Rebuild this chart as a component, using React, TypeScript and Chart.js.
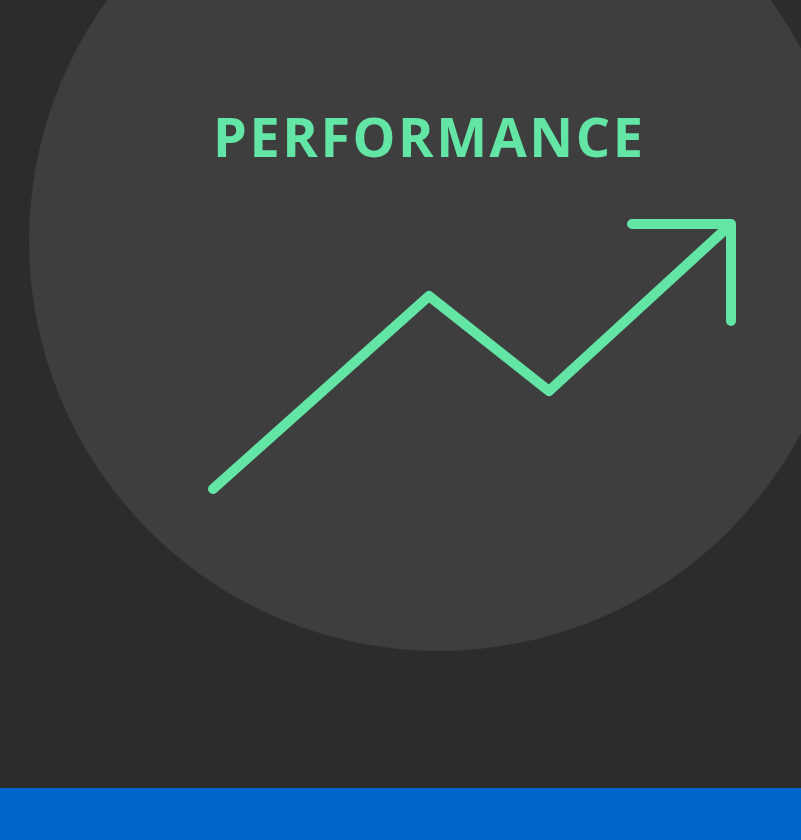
import React, { useEffect, useRef } from "react";
import { Chart, registerables } from "chart.js";

Chart.register(...registerables);

// Data (in picture units: x across, y down)
const trendX = [213, 429, 549, 729];
const trendY = [489, 296, 391, 226];
const arrowX = [632, 731, 731];
const arrowY = [224, 224, 321];
const circleCenter = { x: 439, y: 241 };
const circleRadius = 410;
const bandTop = 788;
const titleText = "PERFORMANCE";
const titlePos = { x: 428, y: 157 };

const W = 801;
const H = 840;

const decorPlugin = {
  id: "decor",
  beforeDraw(chart: any) {
    const { ctx, scales } = chart;
    const xs = scales.x;
    const ys = scales.y;
    ctx.save();
    ctx.fillStyle = "#2c2c2c";
    ctx.fillRect(0, 0, chart.width, chart.height);
    const cx = xs.getPixelForValue(circleCenter.x);
    const cy = ys.getPixelForValue(circleCenter.y);
    const r = xs.getPixelForValue(circleCenter.x + circleRadius) - cx;
    ctx.beginPath();
    ctx.arc(cx, cy, r, 0, Math.PI * 2);
    ctx.fillStyle = "#3e3e3e";
    ctx.fill();
    const by = ys.getPixelForValue(bandTop);
    ctx.fillStyle = "#0066cc";
    ctx.fillRect(0, by, chart.width, chart.height - by);
    // title
    ctx.font = "bold 54px 'Open Sans'";
    const spacing = 2.5;
    (ctx as any).letterSpacing = spacing + "px";
    ctx.fillStyle = "#63e6a5";
    ctx.textBaseline = "alphabetic";
    ctx.textAlign = "left";
    const w = ctx.measureText(titleText).width - spacing;
    ctx.fillText(titleText, xs.getPixelForValue(titlePos.x) - w / 2, ys.getPixelForValue(titlePos.y));
    ctx.restore();
  },
};

export default function App() {
  const ref = useRef<HTMLCanvasElement>(null);
  useEffect(() => {
    if (!ref.current) return;
    const lineStyle = {
      borderColor: "#63e6a5",
      borderWidth: 10,
      borderCapStyle: "round" as const,
      borderJoinStyle: "round" as const,
      pointRadius: 0,
      showLine: true,
      fill: false,
      tension: 0,
    };
    const chart = new Chart(ref.current, {
      type: "scatter",
      data: {
        datasets: [
          { label: "trend", data: trendX.map((x, i) => ({ x, y: trendY[i] })), ...lineStyle },
          { label: "arrow", data: arrowX.map((x, i) => ({ x, y: arrowY[i] })), ...lineStyle },
        ],
      },
      options: {
        animation: false,
        responsive: false,
        layout: { padding: 0 },
        plugins: { legend: { display: false }, tooltip: { enabled: false } },
        scales: {
          x: { type: "linear", min: 0, max: W, display: false },
          y: { type: "linear", min: 0, max: H, reverse: true, display: false },
        },
      },
      plugins: [decorPlugin],
    });
    return () => chart.destroy();
  }, []);
  return (
    <div style={{ position: "fixed", left: 0, top: 0, width: W, height: H }}>
      <canvas ref={ref} width={W} height={H} style={{ display: "block", width: W, height: H }} />
    </div>
  );
}
